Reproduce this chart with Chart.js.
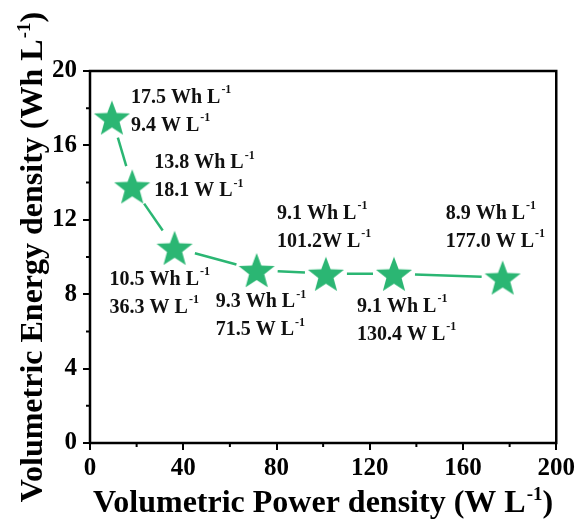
<!DOCTYPE html>
<html>
<head>
<meta charset="utf-8">
<script src="https://cdn.jsdelivr.net/npm/chart.js@4.4.1/dist/chart.umd.min.js"></script>
<style>
  html, body { margin: 0; padding: 0; background: #fff; }
  #wrap { width: 579px; height: 519px; }
</style>
</head>
<body>
<div id="wrap"><canvas id="ragone"></canvas></div>
<script>
// values of the curve
const powerDensity = [9.4, 18.1, 36.3, 71.5, 101.2, 130.4, 177.0]; // W L-1
const energyDensity = [17.5, 13.8, 10.5, 9.3, 9.1, 9.1, 8.9];     // Wh L-1
const xTicks = [0, 40, 80, 120, 160, 200];
const yTicks = [0, 4, 8, 12, 16, 20];
const powerSep = [' ', ' ', ' ', ' ', '', ' ', ' ']; // "101.2W" is written without a space

// where each two-line label sits relative to its star (px)
const labelDx = [19, 22, -65, -41, -49, -37, -57];
const labelDy = [-20, -23, 32, 32, -60, 33, -64];

const green = '#2bb673';
const serif = '"Liberation Serif", "Times New Roman", serif';

// filled five-point star used as point style
function makeStar(r, color) {
    const c = document.createElement('canvas');
    c.width = c.height = Math.ceil(r * 2 + 2);
    const g = c.getContext('2d');
    const cx = c.width / 2, cy = c.height / 2 + r * 0.1;
    g.beginPath();
    for (let i = 0; i < 10; i++) {
        const rad = i % 2 === 0 ? r : r * 0.42;
        const a = -Math.PI / 2 + i * Math.PI / 5;
        g.lineTo(cx + rad * Math.cos(a), cy + rad * Math.sin(a));
    }
    g.closePath();
    g.fillStyle = color;
    g.fill();
    return c;
}
const starImg = makeStar(19, green);

// text with a "-1" superscript after it, returns the end x
function supText(ctx, text, x, y, size) {
    ctx.font = 'bold ' + size + 'px ' + serif;
    ctx.fillText(text, x, y);
    let w = ctx.measureText(text).width;
    ctx.font = 'bold ' + Math.round(size * 0.6) + 'px ' + serif;
    ctx.fillText('-1', x + w + 1, y - size * 0.38);
    return x + w + 1 + ctx.measureText('-1').width;
}

function supWidth(ctx, text, size) {
    ctx.font = 'bold ' + size + 'px ' + serif;
    let w = ctx.measureText(text).width + ctx.measureText(')').width;
    ctx.font = 'bold ' + Math.round(size * 0.6) + 'px ' + serif;
    return w + 1 + ctx.measureText('-1').width;
}

const decorPlugin = {
    id: 'decor',
    beforeDatasetsDraw(chart) {
        // connecting line, stopped short of each star
        const ctx = chart.ctx;
        const pts = chart.getDatasetMeta(0).data;
        const gap = 21;
        ctx.save();
        ctx.strokeStyle = green;
        ctx.lineWidth = 2.5;
        for (let i = 0; i < pts.length - 1; i++) {
            const a = pts[i], b = pts[i + 1];
            const dx = b.x - a.x, dy = b.y - a.y;
            const len = Math.hypot(dx, dy);
            if (len <= gap * 2) continue;
            const ux = dx / len, uy = dy / len;
            ctx.beginPath();
            ctx.moveTo(a.x + ux * gap, a.y + uy * gap);
            ctx.lineTo(b.x - ux * gap, b.y - uy * gap);
            ctx.stroke();
        }
        ctx.restore();
    },
    afterDraw(chart) {
        const ctx = chart.ctx;
        const area = chart.chartArea;
        const xs = chart.scales.x, ys = chart.scales.y;
        ctx.save();

        // frame
        ctx.strokeStyle = '#000';
        ctx.lineWidth = 2.5;
        ctx.strokeRect(area.left, area.top, area.right - area.left, area.bottom - area.top);

        // minor ticks
        ctx.lineWidth = 2;
        ctx.beginPath();
        for (let v = 20; v < 200; v += 40) {
            const px = xs.getPixelForValue(v);
            ctx.moveTo(px, area.bottom);
            ctx.lineTo(px, area.bottom + 4);
        }
        for (let v = 2; v < 20; v += 4) {
            const py = ys.getPixelForValue(v);
            ctx.moveTo(area.left, py);
            ctx.lineTo(area.left - 4, py);
        }
        ctx.stroke();

        // point labels
        ctx.fillStyle = '#111';
        ctx.textBaseline = 'middle';
        ctx.textAlign = 'left';
        const pts = chart.getDatasetMeta(0).data;
        pts.forEach((p, i) => {
            const x = p.x + labelDx[i];
            const y = p.y + labelDy[i];
            supText(ctx, energyDensity[i].toFixed(1) + ' Wh L', x, y, 20);
            supText(ctx, powerDensity[i].toFixed(1) + powerSep[i] + 'W L', x, y + 28, 20);
        });

        // axis titles
        ctx.fillStyle = '#000';
        ctx.textBaseline = 'alphabetic';
        const xt = 'Volumetric Power density (W L';
        let w = supWidth(ctx, xt, 32);
        let end = supText(ctx, xt, (area.left + area.right) / 2 - w / 2, 512, 32);
        ctx.font = 'bold 32px ' + serif;
        ctx.fillText(')', end, 512);

        ctx.translate(42, (area.top + area.bottom) / 2);
        ctx.rotate(-Math.PI / 2);
        const yt = 'Volumetric Energy density (Wh L';
        w = supWidth(ctx, yt, 32);
        end = supText(ctx, yt, -w / 2, 0, 32);
        ctx.font = 'bold 32px ' + serif;
        ctx.fillText(')', end, 0);

        ctx.restore();
    }
};

const ctx = document.getElementById('ragone').getContext('2d');
const chart = new Chart(ctx, {
    type: 'scatter',
    data: {
        datasets: [{
            data: powerDensity.map((p, i) => ({ x: p, y: energyDensity[i] })),
            pointStyle: starImg,
            showLine: false
        }]
    },
    options: {
        responsive: true,
        maintainAspectRatio: false,
        animation: false,
        events: [],
        layout: { padding: { top: 71, right: 21, left: 0, bottom: 0 } },
        plugins: { legend: { display: false }, tooltip: { enabled: false } },
        scales: {
            x: {
                type: 'linear',
                min: 0, max: 200,
                afterBuildTicks: s => { s.ticks = xTicks.map(v => ({ value: v })); },
                afterFit: s => { s.height = 76; },
                grid: { drawOnChartArea: false, drawTicks: true, tickLength: 7, color: '#000', lineWidth: 2 },
                border: { display: false },
                ticks: { color: '#000', padding: 4, maxRotation: 0, font: { family: serif, size: 25, weight: 'bold' } }
            },
            y: {
                type: 'linear',
                min: 0, max: 20,
                afterBuildTicks: s => { s.ticks = yTicks.map(v => ({ value: v })); },
                afterFit: s => { s.width = 90; },
                grid: { drawOnChartArea: false, drawTicks: true, tickLength: 7, color: '#000', lineWidth: 2 },
                border: { display: false },
                ticks: { color: '#000', padding: 6, font: { family: serif, size: 25, weight: 'bold' } }
            }
        }
    },
    plugins: [decorPlugin]
});
</script>
</body>
</html>
